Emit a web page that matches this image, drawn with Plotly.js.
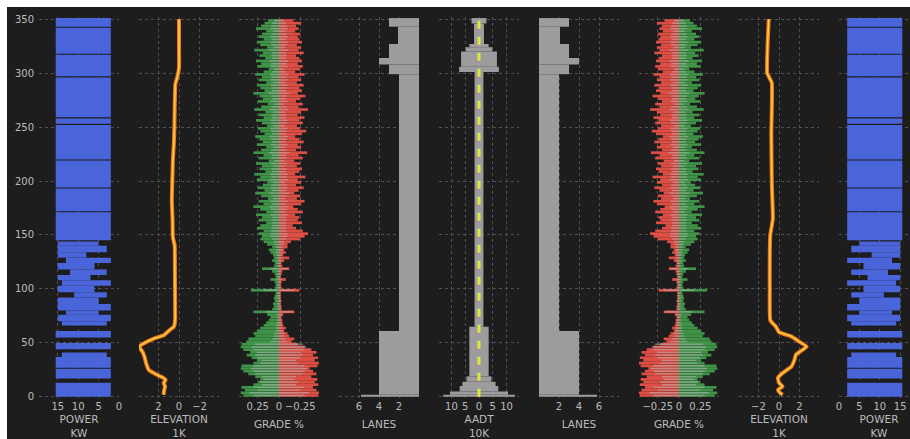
<!DOCTYPE html>
<html><head><meta charset="utf-8">
<script src="https://cdn.plot.ly/plotly-3.0.1.min.js"></script>
<style>
html,body{margin:0;padding:0;background:#ffffff;overflow:hidden;width:910px;height:439px}
#chart{position:absolute;left:7px;top:7px;width:917px;height:432px}
</style>
</head><body><div id="chart"></div>
<script>
// ---------- shared axis labels ----------
const distTicks = [0, 50, 100, 150, 200, 250, 300, 350];
const powerTicksL = [15, 10, 5, 0];
const powerTicksR = [0, 5, 10, 15];
const elevTicksL = [2, 0, -2];
const elevTicksR = [-2, 0, 2];
const gradeTicksL = [0.25, 0, -0.25];
const gradeTicksR = [-0.25, 0, 0.25];
const laneTicksL = [6, 4, 2];
const laneTicksR = [2, 4, 6];
const aadtTicks = [-10, -5, 0, 5, 10];
const aadtTickText = ['10', '5', '0', '5', '10'];
const titles = ['POWER<br>KW', 'ELEVATION<br>1K', 'GRADE %', 'LANES', 'AADT<br>10K', 'LANES', 'GRADE %', 'ELEVATION<br>1K', 'POWER<br>KW'];

// ---------- power (kW): segments along the route ----------
const powerFrom = [0, 17, 27, 37, 44, 55, 66, 70, 76, 80, 86, 92, 97, 103, 108, 113, 118, 124, 129, 134, 140, 145, 172, 194, 220, 253, 259, 297, 318, 343];
const powerTo   = [13, 26, 37, 41, 50, 61, 70, 76, 80, 86, 92, 97, 103, 108, 113, 118, 124, 129, 134, 140, 144, 171, 193, 219, 252, 258, 296, 317, 342, 351];
const powerLow  = [2, 2, 2, 3, 2, 2, 3, 2, 5, 2, 5, 3, 6, 2, 7, 3, 6, 2, 8, 3, 5, 2, 2, 2, 2, 2, 2, 2, 2, 2];
const powerHigh = [15.5, 15.5, 15.5, 14, 15.5, 15.5, 14, 15, 13, 15, 15, 11, 15, 14, 15, 12, 15, 13, 15, 15, 15, 15.5, 15.5, 15.5, 15.5, 15.5, 15.5, 15.5, 15.5, 15.5];

// ---------- elevation (1K) ----------
const elevDistL = [2, 6, 9.6, 13, 15.7, 18, 20.4, 25, 31, 37, 42, 46.6, 49.7, 54, 57, 62, 65, 71, 90, 118, 140, 148, 165, 182, 200, 219, 235, 250, 270, 290, 297, 305, 330, 350];
const elevL     = [1.5, 1.45, 1.36, 1.5, 1.3, 1.6, 2.15, 2.95, 3.2, 3.36, 3.57, 3.9, 3.4, 2.45, 1.5, 0.9, 0.5, 0.38, 0.38, 0.4, 0.42, 0.6, 0.63, 0.7, 0.65, 0.6, 0.5, 0.45, 0.42, 0.35, 0.15, 0, 0, 0];
const elevDistR = [2, 3.7, 6.5, 9.6, 13, 17.6, 22, 28, 34, 39, 43.5, 46.6, 51, 56, 60, 65, 71, 100, 150, 165, 198, 244, 291, 300, 330, 350];
const elevR     = [0.35, 0.1, -0.1, 0.35, 0, -0.1, 0.35, 1.2, 1.5, 1.65, 2.3, 2.7, 2.0, 1.2, 0, -0.3, -0.85, -0.9, -0.85, -0.6, -0.7, -0.75, -0.7, -1.15, -1.1, -1.0];

// ---------- grade (%) in 2.5-unit bins ----------
const gradeDist = [
  1.25, 3.75, 6.25, 8.75, 11.25, 13.75, 16.25, 18.75, 21.25, 23.75,
  26.25, 28.75, 31.25, 33.75, 36.25, 38.75, 41.25, 43.75, 46.25, 48.75,
  51.25, 53.75, 56.25, 58.75, 61.25, 63.75, 66.25, 68.75, 71.25, 73.75,
  76.25, 78.75, 81.25, 83.75, 86.25, 88.75, 91.25, 93.75, 96.25, 98.75,
  101.25, 103.75, 106.25, 108.75, 111.25, 113.75, 116.25, 118.75, 121.25, 123.75,
  126.25, 128.75, 131.25, 133.75, 136.25, 138.75, 141.25, 143.75, 146.25, 148.75,
  151.25, 153.75, 156.25, 158.75, 161.25, 163.75, 166.25, 168.75, 171.25, 173.75,
  176.25, 178.75, 181.25, 183.75, 186.25, 188.75, 191.25, 193.75, 196.25, 198.75,
  201.25, 203.75, 206.25, 208.75, 211.25, 213.75, 216.25, 218.75, 221.25, 223.75,
  226.25, 228.75, 231.25, 233.75, 236.25, 238.75, 241.25, 243.75, 246.25, 248.75,
  251.25, 253.75, 256.25, 258.75, 261.25, 263.75, 266.25, 268.75, 271.25, 273.75,
  276.25, 278.75, 281.25, 283.75, 286.25, 288.75, 291.25, 293.75, 296.25, 298.75,
  301.25, 303.75, 306.25, 308.75, 311.25, 313.75, 316.25, 318.75, 321.25, 323.75,
  326.25, 328.75, 331.25, 333.75, 336.25, 338.75, 341.25, 343.75, 346.25, 348.75];
const gradeUp = [
  .42, .45, .40, .44, .30, .25, .22, .28, .36, .42,
  .45, .44, .30, .26, .32, .38, .34, .42, .45, .44,
  .38, .36, .28, .30, .26, .22, .18, .15, .12, .10,
  .14, .30, .08, .06, .07, .05, .06, .05, .04, .33,
  .05, .04, .05, .10, .04, .05, .08, .20, .06, .05,
  .08, .06, .07, .10, .12, .08, .14, .18, .22, .20,
  .24, .18, .26, .22, .15, .24, .20, .27, .15, .22,
  .30, .18, .24, .13, .21, .28, .17, .25, .19, .14,
  .26, .22, .29, .16, .23, .20, .27, .12, .24, .18,
  .30, .21, .15, .26, .19, .23, .28, .17, .22, .25,
  .14, .20, .27, .18, .24, .16, .29, .21, .13, .25,
  .19, .23, .30, .17, .22, .26, .15, .24, .20, .28,
  .18, .12, .25, .21, .27, .16, .23, .19, .29, .14,
  .22, .26, .18, .24, .20, .15, .27, .21, .17, .13];
const gradeDown = [
  .46, .47, .44, .40, .46, .42, .45, .38, .44, .40,
  .36, .45, .47, .42, .46, .40, .44, .38, .30, .22,
  .15, .18, .12, .10, .06, .08, .05, .04, .04, .03,
  .05, .18, .03, .03, .02, .03, .02, .02, .02, .24,
  .03, .02, .03, .08, .02, .03, .04, .12, .04, .03,
  .06, .12, .05, .08, .06, .10, .10, .14, .25, .30,
  .34, .28, .20, .16, .27, .22, .24, .19, .28, .22,
  .17, .26, .30, .21, .25, .18, .23, .29, .20, .26,
  .22, .31, .19, .24, .27, .21, .25, .18, .28, .23,
  .33, .20, .26, .22, .29, .24, .19, .27, .32, .25,
  .21, .28, .24, .30, .22, .26, .34, .23, .28, .20,
  .25, .31, .22, .27, .24, .29, .21, .26, .23, .30,
  .19, .25, .28, .22, .27, .24, .20, .29, .23, .26,
  .21, .27, .24, .22, .25, .19, .23, .20, .26, .17];
const gradeMix = [
  .30, .35, .25, .30, .20, .22, .18, .20, .28, .30,
  .33, .30, .22, .20, .25, .28, .26, .30, .32, .28,
  .10, .08, .06, .06, .04, .04, .03, .03, .02, .02,
  .03, .16, .02, .02, .02, .02, .02, .02, .02, .18,
  .02, .02, .02, .03, .02, .02, .02, .10, .02, .02,
  .03, .03, .03, .04, .04, .04, .05, .06, .08, .10,
  .10, .09, .09, .08, .08, .09, .08, .10, .07, .09,
  .11, .08, .10, .07, .09, .12, .08, .10, .09, .07,
  .11, .09, .10, .08, .09, .07, .10, .06, .09, .08,
  .12, .09, .07, .10, .08, .09, .11, .08, .09, .10,
  .07, .09, .10, .08, .09, .07, .11, .09, .06, .10,
  .08, .09, .12, .08, .09, .10, .07, .10, .09, .11,
  .08, .06, .10, .09, .11, .08, .09, .08, .11, .07,
  .09, .10, .08, .10, .09, .07, .10, .09, .08, .06];

// ---------- lanes ----------
const laneFrom = [0, 2, 61, 299, 308, 314, 327, 343];
const laneTo   = [2, 61, 299, 308, 314, 327, 343, 351];
const laneCount = [5.8, 4, 2, 3, 4, 3, 2.1, 3];

// ---------- AADT (10K), half width either side ----------
const aadtFrom = [0, 2, 5, 10, 14, 19, 65, 301, 306, 320, 324, 327, 346];
const aadtTo   = [2, 5, 10, 14, 19, 65, 301, 306, 320, 324, 327, 346, 351];
const aadtHalf = [13, 10.5, 7, 6, 4.5, 3.5, 1.6, 7.2, 6.5, 4.8, 3.5, 1.8, 2.7];
const aadtLineDist = [0, 351];
const aadtLineVal = [0, 0];

// ---------- styling ----------
const BG = '#1d1d1d';
const TXT = '#bcbcbc';
const GRID = '#505050';
const BLUE = '#4a64da';
const GREEN = '#3f9448';
const RED = '#dd4f45';
const GREY = '#9c9c9c';

function ax(i) { return i === 1 ? '' : String(i); }

function segBars(from, to, low, high, i, color) {
  return {
    type: 'bar', orientation: 'h',
    y: from.map((f, k) => (f + to[k]) / 2),
    width: from.map((f, k) => to[k] - f),
    base: low,
    x: low.map((l, k) => high[k] - l),
    xaxis: 'x' + ax(i), yaxis: 'y' + ax(i),
    marker: { color: color, line: { width: 0 } },
    hoverinfo: 'skip', showlegend: false
  };
}

function gradeTraces(i) {
  const w = gradeDist.map(() => 2.5);
  const zeros = gradeDist.map(() => 0);
  return [
    { type: 'bar', orientation: 'h', y: gradeDist, width: w, base: zeros, x: gradeUp,
      xaxis: 'x' + ax(i), yaxis: 'y' + ax(i), marker: { color: GREEN, line: { width: 0 } }, hoverinfo: 'skip', showlegend: false },
    { type: 'bar', orientation: 'h', y: gradeDist, width: w, base: zeros, x: gradeDown.map(v => -v),
      xaxis: 'x' + ax(i), yaxis: 'y' + ax(i), marker: { color: RED, line: { width: 0 } }, hoverinfo: 'skip', showlegend: false },
    { type: 'bar', orientation: 'h', y: gradeDist, width: gradeDist.map(() => 1.3), base: gradeMix.map(v => -v), x: gradeMix.map(v => 2 * v),
      xaxis: 'x' + ax(i), yaxis: 'y' + ax(i), marker: { color: 'rgba(185,185,185,0.55)', line: { width: 0 } }, hoverinfo: 'skip', showlegend: false }
  ];
}

function elevTraces(d, v, i) {
  return [
    { type: 'scatter', mode: 'lines', x: v, y: d, xaxis: 'x' + ax(i), yaxis: 'y' + ax(i),
      line: { color: '#ee7424', width: 4, shape: 'spline', smoothing: 0.35 }, hoverinfo: 'skip', showlegend: false },
    { type: 'scatter', mode: 'lines', x: v, y: d, xaxis: 'x' + ax(i), yaxis: 'y' + ax(i),
      line: { color: '#ffd23c', width: 1.5, shape: 'spline', smoothing: 0.35 }, hoverinfo: 'skip', showlegend: false }
  ];
}

const aadtLow = aadtHalf.map(v => -v);
const aadtHigh = aadtHalf;
const laneZero = laneCount.map(() => 0);

const traces = [].concat(
  [segBars(powerFrom, powerTo, powerLow, powerHigh, 1, BLUE)],
  elevTraces(elevDistL, elevL, 2),
  gradeTraces(3),
  [segBars(laneFrom, laneTo, laneZero, laneCount, 4, GREY)],
  [segBars(aadtFrom, aadtTo, aadtLow, aadtHigh, 5, GREY),
   { type: 'scatter', mode: 'lines', x: aadtLineVal, y: aadtLineDist, xaxis: 'x5', yaxis: 'y5',
     line: { color: '#e4e43c', width: 3, dash: '8px,8px' }, hoverinfo: 'skip', showlegend: false }],
  [segBars(laneFrom, laneTo, laneZero, laneCount, 6, GREY)],
  gradeTraces(7),
  elevTraces(elevDistR, elevR, 8),
  [segBars(powerFrom, powerTo, powerLow, powerHigh, 9, BLUE)]
);

const ranges = [[19.6, 0], [3.9, -3.9], [0.47, -0.47], [8, 0], [-14.5, 14.5], [0, 8], [-0.47, 0.47], [-3.9, 3.9], [0, 19.6]];
const tickv = [powerTicksL, elevTicksL, gradeTicksL, laneTicksL, aadtTicks, laneTicksR, gradeTicksR, elevTicksR, powerTicksR];
const fmt = v => (v < 0 ? '\u2212' + String(-v) : String(v));
const tickt = tickv.map((arr, k) => k === 4 ? aadtTickText : arr.map(fmt));

const layout = {
  width: 917, height: 432,
  margin: { l: 32, r: 5, t: 10, b: 40 },
  paper_bgcolor: BG, plot_bgcolor: BG,
  barmode: 'overlay',
  font: { family: 'DejaVu Sans, sans-serif', color: TXT, size: 10 },
  showlegend: false
};

const PW = 880;
for (let i = 1; i <= 9; i++) {
  const k = i - 1;
  layout['xaxis' + ax(i)] = {
    domain: [(100 * k) / PW, (100 * k + 80) / PW],
    range: ranges[k], anchor: 'y' + ax(i),
    tickmode: 'array', tickvals: tickv[k], ticktext: tickt[k],
    showgrid: true, gridcolor: GRID, griddash: 'dot', gridwidth: 1,
    zeroline: false, showline: false, ticks: '',
    tickfont: { size: 10, color: TXT },
    title: { text: titles[k], font: { size: 10.5, color: TXT }, standoff: 9 },
    fixedrange: true
  };
  layout['yaxis' + ax(i)] = {
    domain: [0, 1], range: [-2, 352], anchor: 'x' + ax(i),
    tickmode: 'array', tickvals: distTicks,
    showticklabels: i === 1,
    showgrid: true, gridcolor: GRID, griddash: 'dot', gridwidth: 1,
    zeroline: false, showline: false, ticks: '',
    tickfont: { size: 10, color: TXT }, ticklabelstandoff: 4,
    fixedrange: true
  };
}

Plotly.newPlot('chart', traces, layout, { displayModeBar: false, staticPlot: true });
</script>
</body></html>
